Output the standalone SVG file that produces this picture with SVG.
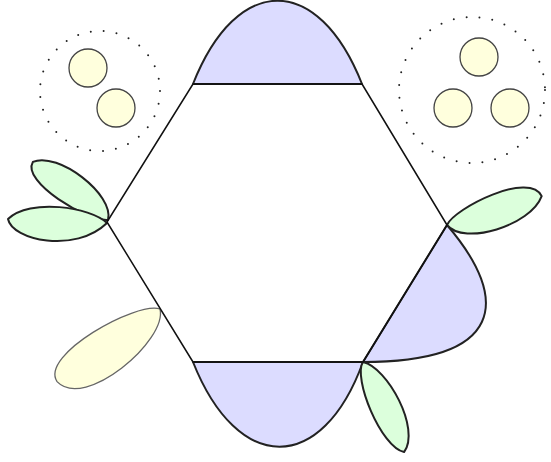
<svg xmlns="http://www.w3.org/2000/svg" width="551" height="462" viewBox="0 0 551 462">
<style>
.bump{fill:#dcdcff;stroke:#222;stroke-width:2;stroke-linejoin:round}
.leafg{fill:#dcffdc;stroke:#222;stroke-width:2;stroke-linejoin:round}
.leafy{fill:#ffffdd;stroke:#666;stroke-width:1.3;stroke-linejoin:round}
.ball{fill:#ffffdd;stroke:#444;stroke-width:1.3}
.dots{fill:none;stroke:#222;stroke-width:2;stroke-dasharray:0 13;stroke-linecap:round}
.edge{fill:none;stroke:#111;stroke-width:1.5;stroke-linejoin:round}
</style>
<rect width="551" height="462" fill="#fff"/>
<g id="group-left">
<circle class="dots" cx="100" cy="91" r="60"/>
<circle class="ball" cx="88" cy="68" r="19"/>
<circle class="ball" cx="116" cy="108" r="19"/>
</g>
<g id="group-right">
<circle class="dots" cx="472" cy="90" r="73"/>
<circle class="ball" cx="479" cy="57" r="19"/>
<circle class="ball" cx="453" cy="108" r="19"/>
<circle class="ball" cx="510" cy="108" r="19"/>
</g>
<g id="bump-top"><path class="bump" d="M193,84 C237,-27 318,-27 362,84 Z"/></g>
<g id="bump-bottom"><path class="bump" d="M193,362 C238,475 322,475 363,362 Z"/></g>
<g id="bump-right"><path class="bump" d="M447,225 C512,301 503,362 363,362 Z"/></g>
<g id="leaf-upper-left"><path class="leafg" transform="translate(108,220) rotate(217.7)" d="M0,0 C10,24 82,24 95,0 C92,-23 15,-14 0,0 Z"/></g>
<g id="leaf-lower-left"><path class="leafg" d="M107,223 C90,207 30,198 8,219 C12,240 75,254 107,223 Z"/></g>
<g id="leaf-yellow"><path class="leafy" transform="translate(160,309) rotate(144.8)" d="M0,0 C15,20 125,32 126,0 C120,-40 12,-30 0,0 Z"/></g>
<g id="leaf-right"><path class="leafg" transform="translate(447,225) rotate(-17)" d="M0,0 C12,-14 95,-28 99,0 C80,25 10,25 0,0 Z"/></g>
<g id="leaf-bottom"><path class="leafg" transform="translate(363,362) rotate(65.5)" d="M0,0 C15,-20 85,-25 99,0 C85,19 10,16 0,0 Z"/></g>
<g id="connectors">
<path class="edge" d="M193,84 L362,84 L447,225 L363,362 L193,362 L107,222 Z"/>
</g>
</svg>
